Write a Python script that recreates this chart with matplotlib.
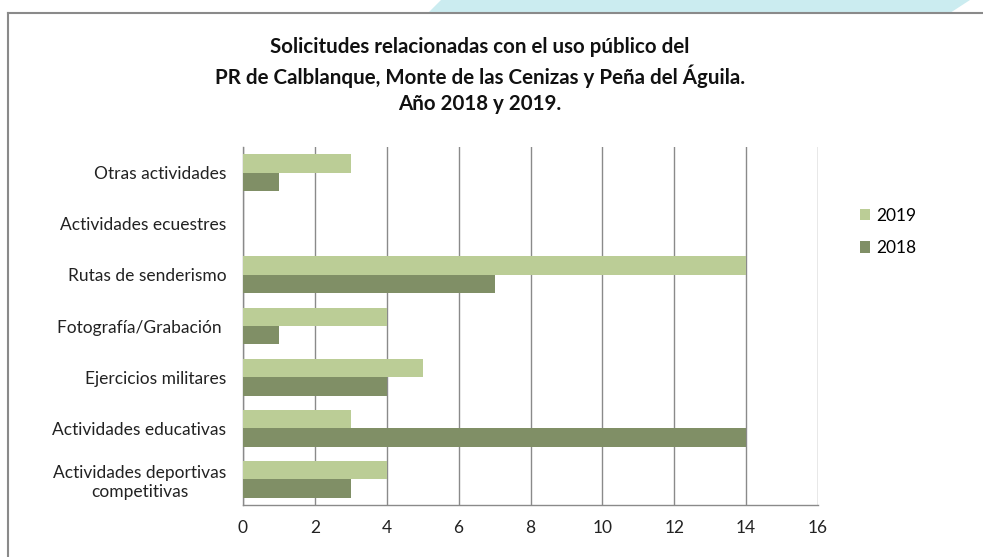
import matplotlib
matplotlib.use("Agg")
import matplotlib.pyplot as plt
from matplotlib.patches import Polygon, Patch
from matplotlib.lines import Line2D
import numpy as np

plt.rcParams['font.family'] = ['Lato', 'DejaVu Sans']

categories = ["Actividades deportivas\ncompetitivas", "Actividades educativas",
              "Ejercicios militares", "Fotografía/Grabación ", "Rutas de senderismo",
              "Actividades ecuestres", "Otras actividades"]
v2018 = [3, 14, 4, 1, 7, 0, 1]
v2019 = [4, 3, 5, 4, 14, 0, 3]
xticks = [0, 2, 4, 6, 8, 10, 12, 14, 16]
title_lines = ["Solicitudes relacionadas con el uso público del",
               "PR de Calblanque, Monte de las Cenizas y Peña del Águila.",
               "Año 2018 y 2019."]

W, H = 983, 557
fig = plt.figure(figsize=(W / 100, H / 100), dpi=100)

# decorative band and frame
band = Polygon([(428 / W, 1 - 13 / H), (441 / W, 1.0), (970 / W, 1.0), (950 / W, 1 - 13 / H)],
               closed=True, transform=fig.transFigure, facecolor='#CBECF0', edgecolor='none')
fig.patches.append(band)
fig.add_artist(Line2D([8 / W, 8 / W], [0, 1 - 13 / H], transform=fig.transFigure, color='#8a8a8a', lw=1.5))
fig.add_artist(Line2D([8 / W, 1.0], [1 - 13 / H, 1 - 13 / H], transform=fig.transFigure, color='#8a8a8a', lw=1.5))

ax = fig.add_axes([243 / W, 1 - 505 / H, (818 - 243) / W, (505 - 147) / H])
y = np.arange(len(categories))
h = 0.36
c19 = '#BBCD96'
c18 = '#808F66'
ax.barh(y - h / 2, v2018, height=h, color=c18, zorder=3, label='2018')
ax.barh(y + h / 2, v2019, height=h, color=c19, zorder=3, label='2019')

ax.set_xlim(0, 16)
ax.set_ylim(-0.5, len(categories) - 0.5)
ax.set_xticks(xticks)
ax.set_xticklabels([str(t) for t in xticks], fontsize=12.5, color='#222222')
ax.set_yticks(y)
ax.set_yticklabels(categories, fontsize=12.5, color='#222222', multialignment='center',
                   linespacing=1.25)
ax.tick_params(axis='both', length=0)
ax.tick_params(axis='y', pad=12)
ax.tick_params(axis='x', pad=11)
ax.grid(axis='x', color='#8a8a8a', lw=1.0, zorder=0)
for s in ['top', 'right']:
    ax.spines[s].set_visible(False)
for s in ['left', 'bottom']:
    ax.spines[s].set_color('#8a8a8a')
    ax.spines[s].set_linewidth(1.0)

for i, (line, ypix) in enumerate(zip(title_lines, [47, 76, 104])):
    fig.text(480 / W, 1 - ypix / H, line, ha='center', va='center',
             fontsize=14.8, fontweight='bold', color='#111111')

handles = [Patch(facecolor=c19, label='2019'), Patch(facecolor=c18, label='2018')]
fig.legend(handles=handles, loc='upper left', bbox_to_anchor=(844 / W, 1 - 192 / H),
           frameon=False, fontsize=12.5, handlelength=0.6, handleheight=0.6,
           handletextpad=0.35, labelspacing=0.95)

fig.savefig("out.png", dpi=100)
